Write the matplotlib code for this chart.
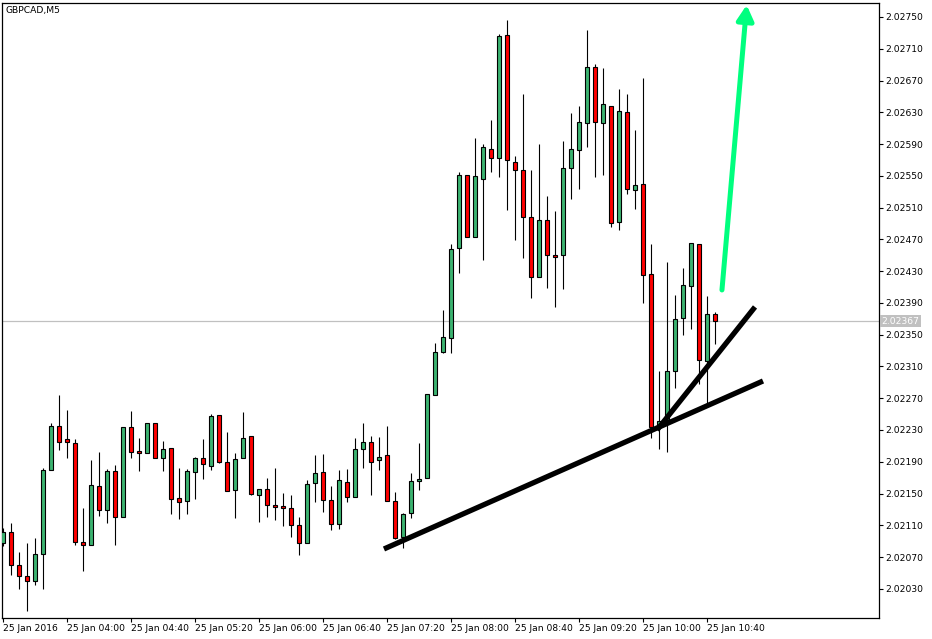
import matplotlib.pyplot as plt
import numpy as np

# GBPCAD M5, 25 Jan 2016 from 03:20, one bar every 5 minutes
opens = [2.02088, 2.02102, 2.02060, 2.02046, 2.02040, 2.02074, 2.02180, 2.02235, 2.02219, 2.02214,
         2.02089, 2.02085, 2.02160, 2.02129, 2.02178, 2.02120, 2.02234, 2.02204, 2.02201, 2.02239,
         2.02195, 2.02207, 2.02144, 2.02141, 2.02177, 2.02195, 2.02185, 2.02249, 2.02190, 2.02155,
         2.02195, 2.02223, 2.02148, 2.02156, 2.02136, 2.02134, 2.02132, 2.02110, 2.02088, 2.02163,
         2.02177, 2.02142, 2.02112, 2.02165, 2.02146, 2.02206, 2.02215, 2.02192, 2.02199, 2.02141,
         2.02095, 2.02125, 2.02166, 2.02170, 2.02274, 2.02328, 2.02346, 2.02459, 2.02551, 2.02473,
         2.02546, 2.02584, 2.02572, 2.02727, 2.02567, 2.02557, 2.02498, 2.02423, 2.02494, 2.02450,
         2.02450, 2.02560, 2.02583, 2.02617, 2.02687, 2.02617, 2.02638, 2.02492, 2.02630, 2.02532,
         2.02540, 2.02426, 2.02234, 2.02243, 2.02304, 2.02371, 2.02411, 2.02464, 2.02317, 2.02376]
highs = [2.02107, 2.02113, 2.02076, 2.02088, 2.02094, 2.02182, 2.02239, 2.02274, 2.02255, 2.02219,
         2.02132, 2.02192, 2.02202, 2.02181, 2.02186, 2.02234, 2.02254, 2.02220, 2.02239, 2.02239,
         2.02216, 2.02207, 2.02182, 2.02181, 2.02196, 2.02219, 2.02250, 2.02249, 2.02228, 2.02201,
         2.02253, 2.02223, 2.02156, 2.02170, 2.02182, 2.02151, 2.02148, 2.02120, 2.02167, 2.02199,
         2.02200, 2.02160, 2.02180, 2.02181, 2.02220, 2.02239, 2.02223, 2.02221, 2.02235, 2.02152,
         2.02125, 2.02176, 2.02214, 2.02275, 2.02340, 2.02381, 2.02464, 2.02555, 2.02551, 2.02598,
         2.02590, 2.02620, 2.02729, 2.02746, 2.02575, 2.02653, 2.02557, 2.02590, 2.02525, 2.02506,
         2.02594, 2.02629, 2.02638, 2.02734, 2.02691, 2.02686, 2.02638, 2.02659, 2.02653, 2.02608,
         2.02673, 2.02464, 2.02304, 2.02442, 2.02400, 2.02434, 2.02466, 2.02464, 2.02399, 2.02379]
lows = [2.02084, 2.02048, 2.02030, 2.02002, 2.02035, 2.02030, 2.02180, 2.02205, 2.02195, 2.02085,
        2.02052, 2.02085, 2.02122, 2.02113, 2.02085, 2.02120, 2.02195, 2.02178, 2.02201, 2.02195,
        2.02178, 2.02124, 2.02118, 2.02124, 2.02143, 2.02168, 2.02180, 2.02188, 2.02153, 2.02119,
        2.02195, 2.02148, 2.02114, 2.02120, 2.02117, 2.02109, 2.02095, 2.02073, 2.02088, 2.02139,
        2.02127, 2.02104, 2.02105, 2.02139, 2.02146, 2.02182, 2.02148, 2.02180, 2.02141, 2.02093,
        2.02081, 2.02119, 2.02155, 2.02170, 2.02274, 2.02327, 2.02327, 2.02428, 2.02473, 2.02473,
        2.02444, 2.02555, 2.02549, 2.02507, 2.02469, 2.02447, 2.02396, 2.02423, 2.02409, 2.02385,
        2.02408, 2.02521, 2.02533, 2.02586, 2.02549, 2.02551, 2.02486, 2.02482, 2.02527, 2.02508,
        2.02390, 2.02220, 2.02206, 2.02202, 2.02283, 2.02350, 2.02357, 2.02288, 2.02264, 2.02338]
closes = [2.02102, 2.02060, 2.02046, 2.02040, 2.02074, 2.02180, 2.02235, 2.02215, 2.02215, 2.02089,
          2.02085, 2.02161, 2.02129, 2.02178, 2.02120, 2.02234, 2.02202, 2.02201, 2.02239, 2.02195,
          2.02206, 2.02143, 2.02139, 2.02178, 2.02195, 2.02187, 2.02248, 2.02190, 2.02153, 2.02194,
          2.02220, 2.02150, 2.02156, 2.02136, 2.02133, 2.02132, 2.02110, 2.02088, 2.02162, 2.02176,
          2.02142, 2.02112, 2.02167, 2.02146, 2.02206, 2.02215, 2.02190, 2.02196, 2.02141, 2.02094,
          2.02124, 2.02166, 2.02168, 2.02275, 2.02328, 2.02347, 2.02458, 2.02551, 2.02473, 2.02550,
          2.02586, 2.02572, 2.02726, 2.02570, 2.02557, 2.02498, 2.02423, 2.02494, 2.02450, 2.02448,
          2.02560, 2.02584, 2.02618, 2.02687, 2.02618, 2.02640, 2.02491, 2.02632, 2.02533, 2.02539,
          2.02425, 2.02234, 2.02241, 2.02304, 2.02370, 2.02413, 2.02466, 2.02318, 2.02376, 2.02367]

time_labels = ["25 Jan 2016", "25 Jan 04:00", "25 Jan 04:40", "25 Jan 05:20", "25 Jan 06:00",
               "25 Jan 06:40", "25 Jan 07:20", "25 Jan 08:00", "25 Jan 08:40", "25 Jan 09:20",
               "25 Jan 10:00", "25 Jan 10:40"]
price_ticks = [2.02030, 2.02070, 2.02110, 2.02150, 2.02190, 2.02230, 2.02270, 2.02310, 2.02350,
               2.02390, 2.02430, 2.02470, 2.02510, 2.02550, 2.02590, 2.02630, 2.02670, 2.02710, 2.02750]
last_price = 2.02367

# hand drawn objects on the chart: (bar index, price)
trend_lower = [(47.66, 2.020802), (95.04, 2.022917)]
trend_upper = [(81.79, 2.022300), (94.04, 2.023849)]
arrow_up = [(89.91, 2.024063), (93.0, 2.027651)]

bull_color = "#3CB371"
bear_color = "#FF0000"

fig = plt.figure(figsize=(9.32, 6.39), dpi=100, facecolor="white")
ax = fig.add_axes([2 / 932, 21 / 639, 877 / 932, 615 / 639])
ax.set_facecolor("white")

o = np.array(opens)
h = np.array(highs)
l = np.array(lows)
c = np.array(closes)
x = np.arange(len(o))

# wicks first, bodies on top
ax.vlines(x, l, h, color="black", linewidth=0.8, zorder=2)
colors = [bull_color if cc >= oo else bear_color for oo, cc in zip(o, c)]
bottoms = np.minimum(o, c)
heights = np.maximum(np.abs(c - o), 0.000008)
ax.bar(x, heights, bottom=bottoms, width=0.5, color=colors, edgecolor="black",
       linewidth=0.8, zorder=3)

# current price line
ax.axhline(last_price, color="#C0C0C0", linewidth=0.9, zorder=1)

# trend lines
for line in (trend_lower, trend_upper):
    xs = [p[0] for p in line]
    ys = [p[1] for p in line]
    ax.plot(xs, ys, color="black", linewidth=3.8, solid_capstyle="butt", zorder=4)

ax.annotate("", xy=arrow_up[1], xytext=arrow_up[0],
            arrowprops=dict(arrowstyle="-|>,head_length=0.45,head_width=0.25",
                            color="#00FF7F", lw=3.6, mutation_scale=20,
                            shrinkA=0, shrinkB=0), zorder=5)

ax.set_xlim(-0.0875, 109.54)
ax.set_ylim(2.019933, 2.027676)

# time axis
ax.set_xticks(np.arange(0, len(o), 8))
ax.set_xticklabels(time_labels, fontsize=6.6, ha="left")
ax.tick_params(axis="x", direction="out", length=3, width=0.8, pad=1.5, color="black")

# price axis on the right
ax.yaxis.tick_right()
ax.set_yticks(price_ticks)
ax.set_yticklabels([f"{p:.5f}" for p in price_ticks], fontsize=6.6)
ax.tick_params(axis="y", direction="out", length=3, width=0.8, pad=1.5, color="black")

for s in ax.spines.values():
    s.set_linewidth(0.9)
    s.set_color("black")

# last price label on the axis
ax.text(1.0025, last_price, f"{last_price:.5f}", transform=ax.get_yaxis_transform(),
        fontsize=6.6, color="white", va="center", ha="left",
        bbox=dict(facecolor="#C0C0C0", edgecolor="none", pad=1.2), clip_on=False)

fig.text(5 / 932, 1 - 11 / 639, "GBPCAD,M5", fontsize=6.6, va="center", ha="left")

plt.savefig("out.png", dpi=100, facecolor="white")
plt.close()
